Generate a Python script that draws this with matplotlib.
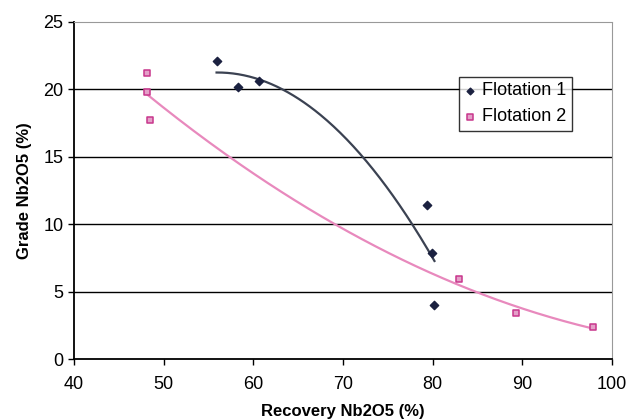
import numpy as np
import matplotlib.pyplot as plt

plt.rcParams['font.family'] = ['Liberation Sans', 'DejaVu Sans']

# data
rec1 = [55.9, 58.3, 60.6, 79.4, 79.9, 80.2]
grade1 = [22.1, 20.2, 20.6, 11.4, 7.9, 4.0]
rec2 = [48.1, 48.1, 48.5, 82.9, 89.3, 97.9]
grade2 = [21.2, 19.8, 17.7, 5.9, 3.4, 2.4]

x_ticks = [40, 50, 60, 70, 80, 90, 100]
y_ticks = [0, 5, 10, 15, 20, 25]

fig = plt.figure(figsize=(6.29, 4.19), dpi=100)
ax = fig.add_axes([74 / 629, 1 - 359 / 419, (612 - 74) / 629, (359 - 22) / 419])

c1 = '#1b2140'
c2 = '#c8368c'

# polynomial (order 2) trendlines, like the spreadsheet
for xs, ys, col in [(rec1, grade1, '#3b4252'), (rec2, grade2, '#e889bd')]:
    p = np.polyfit(xs, ys, 2)
    xx = np.linspace(min(xs), max(xs), 200)
    ax.plot(xx, np.polyval(p, xx), color=col, lw=1.6, zorder=2)

ax.scatter(rec1, grade1, marker='D', s=18, color=c1, zorder=3, label='Flotation 1')
ax.scatter(rec2, grade2, marker='s', s=24, facecolor='#e4a0c8', edgecolor=c2,
           linewidth=1.1, zorder=3, label='Flotation 2')

ax.set_xlim(40, 100)
ax.set_ylim(0, 25)
ax.set_xticks(x_ticks)
ax.set_yticks(y_ticks)
ax.tick_params(labelsize=13, length=4, width=1, direction='out')
ax.tick_params(axis='x', pad=8)

for y in y_ticks[1:-1]:
    ax.axhline(y, color='black', lw=1, zorder=1)
ax.spines['top'].set_color('#999999')
ax.spines['right'].set_color('#999999')
ax.spines['right'].set_linestyle((0, (1, 1)))
ax.spines['left'].set_linewidth(1.3)
ax.spines['bottom'].set_linewidth(1.3)

ax.set_xlabel('Recovery Nb2O5 (%)', fontsize=12, fontweight='bold', labelpad=8)
ax.set_ylabel('Grade Nb2O5 (%)', fontsize=12, fontweight='bold', labelpad=8)

leg = ax.legend(loc='upper left', bbox_to_anchor=((459 - 74) / 538, 1 - (77 - 22) / 337),
                fontsize=13, frameon=True, fancybox=False, edgecolor='black',
                handlelength=0.6, handletextpad=0.4, borderpad=0.3, labelspacing=0.5,
                borderaxespad=0, markerscale=0.8)
leg.get_frame().set_linewidth(1)

fig.savefig('out.png', dpi=100)
